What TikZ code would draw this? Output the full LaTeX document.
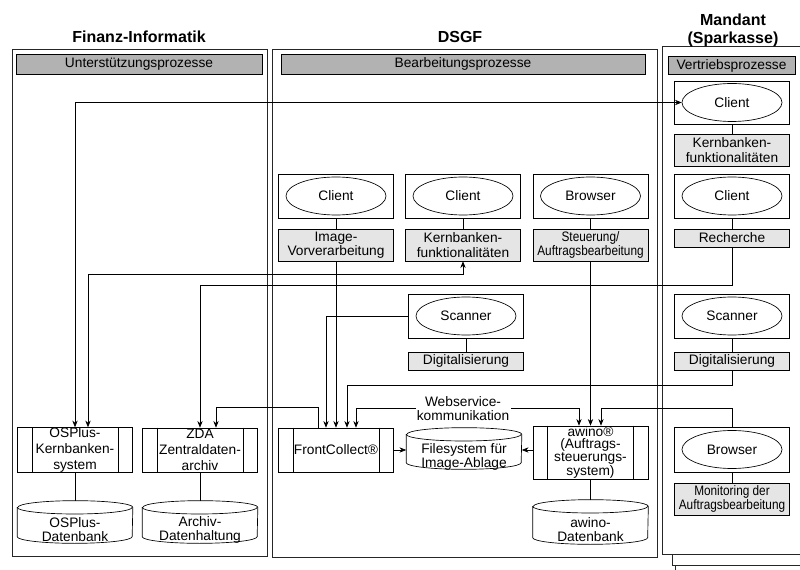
\documentclass[tikz,border=0pt]{standalone}
\usepackage{fontspec}
\setmainfont{Liberation Sans}
\usetikzlibrary{positioning}
\usetikzlibrary{shapes.geometric}
\usetikzlibrary{arrows.meta}

\newcommand{\px}{*0.75pt}
\newcommand{\squeeze}[1]{\scalebox{0.86}[1]{#1}}

\tikzset{
  frame/.style={draw=black!85, line width=0.6pt},
  title/.style={font=\fontsize{12}{13.5}\selectfont\bfseries, align=center},
  hdr/.style={draw, fill=black!30, minimum height=20\px, inner sep=0pt, font=\fontsize{10.3}{10.3}\selectfont},
  devbox/.style={draw, minimum width=115\px, minimum height=44\px, inner sep=0pt},
  dev/.style={draw, ellipse, fill=white, minimum width=100\px, minimum height=38\px, inner sep=0pt, font=\fontsize{10.3}{10.3}\selectfont},
  func/.style={draw, fill=black!10, minimum width=115\px, minimum height=32\px, inner sep=0pt, align=center, font=\fontsize{10.3}{10.8}\selectfont},
  sys/.style={draw, fill=white, minimum width=115\px, minimum height=44\px, inner sep=0pt, align=center, font=\fontsize{10.3}{12}\selectfont},
  db/.style={minimum width=115\px, minimum height=42\px, inner sep=0pt},
  dbtext/.style={yshift=-8\px, inner sep=0pt, align=center, font=\fontsize{10.3}{10.5}\selectfont},
  wslbl/.style={fill=white, inner sep=1pt, align=center, font=\fontsize{10.3}{10.8}\selectfont}
}

\begin{document}
\begin{tikzpicture}[x=0.75pt, y=-0.75pt, line width=0.5pt, >={Stealth[length=5pt,width=4pt]}]
\useasboundingbox (0,0) rectangle (800,570);

% Frames
\draw[frame] (12,49) rectangle (267,556);
\draw[frame] (272,49) rectangle (657,557);
\draw[frame] (675,565) -- (675,575);
\draw[frame] (672,554) -- (672,565) -- (810,565);
\draw[frame] (662,46) rectangle (810,554);

% Titles and headers
\node at (139,37) (fititle) [title] {Finanz-Informatik};
\node at (460,37) (dsgftitle) [title] {DSGF};
\node at (733,30) (mtitle) [title] {Mandant\\(Sparkasse)};
\node at (139,64) (fihdr) [hdr, minimum width=246\px] {Unterstützungsprozesse};
\node at (463,64) (dsgfhdr) [hdr, minimum width=364\px] {Bearbeitungsprozesse};
\node at (731.5,65.5) (mhdr) [hdr, minimum width=127\px, minimum height=18\px] {Vertriebsprozesse};

% DSGF clients
\node at (336,196) (dc1) [devbox] {};
\node at (dc1) (dc1e) [dev] {Client};
\node at (463,196) (dc2) [devbox] {};
\node at (dc2) (dc2e) [dev] {Client};
\node at (590.5,196) (dbr) [devbox] {};
\node at (dbr) (dbre) [dev] {Browser};
\node at (336,245) (dfunc1) [func] {Image-\\Vorverarbeitung};
\node at (463,245) (dfunc2) [func] {Kernbanken-\\funktionalitäten};
\node at (590.5,245) (dfunc3) [func] {\squeeze{Steuerung/}\\\squeeze{Auftragsbearbeitung}};
\node at (466,316) (ds) [devbox] {};
\node at (ds) (dse) [dev] {Scanner};
\node at (466,361) (ddig) [func, minimum height=18\px] {Digitalisierung};

% Mandant
\node at (732,102.5) (mc1) [devbox, minimum height=43\px] {};
\node at (mc1) (mc1e) [dev] {Client};
\node at (732,150) (mfunc1) [func] {Kernbanken-\\funktionalitäten};
\node at (732,196) (mc2) [devbox] {};
\node at (mc2) (mc2e) [dev] {Client};
\node at (732,238) (mrech) [func, minimum height=18\px] {Recherche};
\node at (732,316) (ms) [devbox] {};
\node at (ms) (mse) [dev] {Scanner};
\node at (732,361) (mdig) [func, minimum height=18\px] {Digitalisierung};
\node at (732,449.5) (mb) [devbox, minimum height=45\px] {};
\node at (mb) (mbe) [dev] {Browser};
\node at (732,499) (mmon) [func] {\squeeze{Monitoring der}\\\squeeze{Auftragsbearbeitung}};

% Systems
\node at (75,450) (osp) [sys] {OSPlus-\\Kernbanken-\\system};
\node at (200,450) (zda) [sys] {ZDA\\Zentraldaten-\\archiv};
\node at (336,450) (fc) [sys] {FrontCollect®};
\node at (590.5,452.5) (aw) [sys, minimum height=53\px, font=\fontsize{10.3}{9.6}\selectfont] {awino®\\(Auftrags-\\steuerungs-\\system)};
\foreach \s in {osp,zda,fc,aw} {
  \draw ([xshift=15\px]\s.north west) -- ([xshift=15\px]\s.south west);
  \draw ([xshift=-15\px]\s.north east) -- ([xshift=-15\px]\s.south east);
}

% Databases
\node at (75,522) (ospdb) [db] {};
\node at (200,522) (archdb) [db] {};
\node at (464,448.5) (fs) [db, minimum height=41\px] {};
\node at (590.5,522) (awdb) [db, minimum height=44\px] {};
\foreach \d in {ospdb,archdb,fs,awdb} {
  \draw[fill=white] ([yshift=-5pt]\d.north west) -- ([yshift=5pt]\d.south west)
    arc[start angle=180, end angle=360, x radius=43.125pt, y radius=5pt]
    -- ([yshift=-5pt]\d.north east)
    arc[start angle=0, end angle=180, x radius=43.125pt, y radius=5pt] -- cycle;
  \draw ([yshift=-5pt]\d.north west) arc[start angle=180, end angle=360, x radius=43.125pt, y radius=5pt];
}
\node at (ospdb) (ospdbt) [dbtext] {OSPlus-\\Datenbank};
\node at (archdb) (archdbt) [dbtext] {Archiv-\\Datenhaltung};
\node at (fs) (fst) [dbtext] {Filesystem für\\Image-Ablage};
\node at (awdb) (awdbt) [dbtext] {awino-\\Datenbank};

% Lines
\foreach \a/\b in {dc1/dfunc1, dc2/dfunc2, dbr/dfunc3, ds/ddig, mc1/mfunc1, mc2/mrech, ms/mdig, mb/mmon, osp/ospdb, zda/archdb, aw/awdb}
  \draw (\a.south) -- (\b.north);

% Arrows
\draw[<->] (osp.north) |- (mc1e.west);
\draw[<->] ([xshift=13\px]osp.north) -- ++(0,-153) -| (dfunc2.south);
\draw[->] (mrech.south) -- ++(0,38) -| (zda.north);
\draw[->] ([xshift=-18\px]fc.north) -- ++(0,-20) -| ([xshift=16\px]zda.north);
\draw[->] (ds.west) -| ([xshift=-10\px]fc.north);
\draw[->] (dfunc1.south) -- (fc.north);
\draw[->] (mdig.south) -- ++(0,15) -| ([xshift=11\px]fc.north);
\draw[<->] ([xshift=20\px]fc.north) -- ++(0,-19) -| ([xshift=-11.5\px]aw.north)
  node[pos=0.24, wslbl] (ws) {Webservice-\\kommunikation};
\draw[->] (dfunc3.south) -- (aw.north);
\draw[->] (mb.north) -- ++(0,-18) -| ([xshift=10.5\px]aw.north);
\draw[->] (fc.east) -- (fc.east -| fs.west);
\draw[->] (fc.east -| aw.west) -- (fc.east -| fs.east);

\end{tikzpicture}
\end{document}
